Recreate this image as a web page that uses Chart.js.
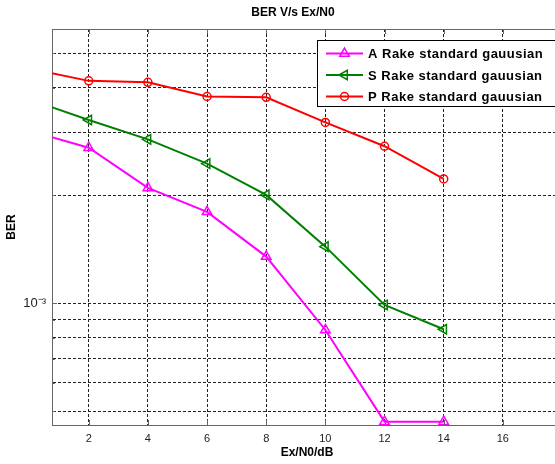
<!DOCTYPE html>
<html><head><meta charset="utf-8">
<script src="https://cdn.jsdelivr.net/npm/chart.js@4/dist/chart.umd.min.js"></script>
<style>html,body{margin:0;padding:0;background:#fff;overflow:hidden}
#wrap{position:relative;width:585px;height:464px}</style>
</head><body><div id="wrap"><canvas id="c" width="585" height="464"></canvas></div>
<script>
// ---- data ----
const snr = [0, 2, 4, 6, 8, 10, 12, 14];
const berA = [3.03e-3, 2.72e-3, 2.10e-3, 1.80e-3, 1.35e-3, 0.842e-3, 0.467e-3, 0.467e-3];
const berS = [3.71e-3, 3.25e-3, 2.87e-3, 2.455e-3, 2.007e-3, 1.439e-3, 0.989e-3, 0.846e-3];
const berP = [4.52e-3, 4.18e-3, 4.14e-3, 3.78e-3, 3.76e-3, 3.20e-3, 2.745e-3, 2.225e-3];
const seriesLabels = ['A Rake standard gauusian', 'S Rake standard gauusian', 'P Rake standard gauusian'];
const xTicks = [2, 4, 6, 8, 10, 12, 14, 16];
const yTicks = [5e-4, 6e-4, 7e-4, 8e-4, 9e-4, 1e-3, 2e-3, 3e-3, 4e-3, 5e-3];
const yTickLabels = { '0.001': '10\u207B\u00B3' };
const titleText = 'BER V/s Ex/N0';
const xTitle = 'Ex/N0/dB';
const yTitle = 'BER';

const FONT = "'Liberation Sans', Arial, Helvetica, sans-serif";
Chart.defaults.font.family = FONT;
Chart.defaults.color = '#111';

const AXIS_COL = '#666';

function pts(ys) { return snr.map((x, i) => ({ x: x, y: ys[i] })); }

function drawMarker(ctx, style, x, y, r, rot, color) {
  ctx.save();
  ctx.strokeStyle = color; ctx.lineWidth = 1.5; ctx.setLineDash([]);
  ctx.beginPath();
  if (style === 'circle') {
    ctx.arc(x, y, r, 0, Math.PI * 2);
  } else {
    let a = rot * Math.PI / 180;
    for (let k = 0; k < 3; k++) {
      const px = x + Math.sin(a) * r, py = y - Math.cos(a) * r;
      if (k === 0) ctx.moveTo(px, py); else ctx.lineTo(px, py);
      a += 2 * Math.PI / 3;
    }
    ctx.closePath();
  }
  ctx.stroke();
  ctx.restore();
}

const boxPlugin = {
  id: 'boxPlugin',
  afterDatasetsDraw(chart) {
    const { ctx, chartArea: a, scales } = chart;
    ctx.save();
    ctx.strokeStyle = AXIS_COL; ctx.lineWidth = 1; ctx.setLineDash([]);
    ctx.beginPath();
    ctx.moveTo(a.left, a.top + 0.5); ctx.lineTo(a.right, a.top + 0.5);
    ctx.moveTo(a.right - 0.5, a.top); ctx.lineTo(a.right - 0.5, a.bottom);
    // inner tick marks
    xTicks.forEach(v => {
      const px = Math.round(scales.x.getPixelForValue(v)) + 0.5;
      ctx.moveTo(px, a.bottom); ctx.lineTo(px, a.bottom - 5);
      ctx.moveTo(px, a.top); ctx.lineTo(px, a.top + 5);
    });
    yTicks.forEach(v => {
      const py = Math.round(scales.y.getPixelForValue(v)) + 0.5;
      const len = (v === 1e-3) ? 5 : 3;
      ctx.moveTo(a.left, py); ctx.lineTo(a.left + len, py);
    });
    ctx.stroke();
    ctx.restore();
  },
  afterDraw(chart) {
    const { ctx, chartArea: a } = chart;
    // title
    ctx.save();
    ctx.fillStyle = '#000';
    ctx.font = 'bold 12px ' + FONT;
    ctx.textAlign = 'center'; ctx.textBaseline = 'middle';
    ctx.fillText(titleText, a.left + 241, 13);
    ctx.restore();
    // legend
    const bx = a.left + 265, by = a.top + 11, bw = 240, bh = 66;
    ctx.save();
    ctx.fillStyle = '#fff';
    ctx.fillRect(bx, by, bw, bh);
    ctx.strokeStyle = '#000'; ctx.lineWidth = 1; ctx.setLineDash([]);
    ctx.strokeRect(bx + 0.5, by + 0.5, bw, bh);
    chart.data.datasets.forEach((ds, i) => {
      const y = by + 13.5 + i * 21.5;
      ctx.strokeStyle = ds.borderColor; ctx.lineWidth = 2;
      ctx.beginPath(); ctx.moveTo(bx + 9, y); ctx.lineTo(bx + 46, y); ctx.stroke();
      drawMarker(ctx, ds.pointStyle, bx + 27.5, y, ds.pointStyle === 'circle' ? 4 : 5.5, ds.pointRotation || 0, ds.borderColor);
      ctx.fillStyle = '#000';
      ctx.font = 'bold 13px ' + FONT;
      if ('letterSpacing' in ctx) ctx.letterSpacing = '0.5px';
      ctx.textBaseline = 'middle'; ctx.textAlign = 'left';
      ctx.fillText(ds.label, bx + 51, y + 1);
    });
    ctx.restore();
  }
};

function mkDs(label, ys, color, style, rot, r) {
  return {
    label: label, data: pts(ys), borderColor: color, backgroundColor: 'rgba(0,0,0,0)',
    borderWidth: 2, pointStyle: style, pointRotation: rot,
    pointRadius: (c) => c.dataIndex === 0 ? 0 : r,
    pointBorderWidth: 1.5, pointBackgroundColor: 'rgba(0,0,0,0)', pointBorderColor: color,
    tension: 0, fill: false
  };
}

new Chart(document.getElementById('c'), {
  type: 'line',
  data: {
    datasets: [
      mkDs(seriesLabels[0], berA, '#ff00ff', 'triangle', 0, 5.5),
      mkDs(seriesLabels[1], berS, '#008000', 'triangle', -90, 5.5),
      mkDs(seriesLabels[2], berP, '#ff0000', 'circle', 0, 4)
    ]
  },
  options: {
    responsive: false, animation: false, devicePixelRatio: 1,
    layout: { padding: { left: 0, right: 23, top: 29, bottom: 0 } },
    plugins: {
      legend: { display: false }, tooltip: { enabled: false },
      title: { display: false }
    },
    scales: {
      x: {
        type: 'linear', min: 0.758, max: 18,
        afterBuildTicks: (s) => { s.ticks = xTicks.map(v => ({ value: v })); },
        afterFit: (s) => { s.height = 39; },
        ticks: { padding: 7, color: '#222', font: { size: 11 }, maxRotation: 0, autoSkip: false,
          callback: (v) => String(v) },
        grid: { drawTicks: false, color: '#222', lineWidth: 1 },
        border: { display: true, color: AXIS_COL, width: 1, dash: [3, 2] },
        title: { display: true, text: xTitle, color: '#000', font: { size: 12, weight: 'bold', lineHeight: 1.2 }, padding: { top: 4, bottom: 4 } }
      },
      y: {
        type: 'logarithmic', min: 4.57e-4, max: 5.835e-3,
        afterBuildTicks: (s) => { s.ticks = yTicks.map(v => ({ value: v })); },
        afterFit: (s) => { s.width = 52; },
        ticks: { padding: 6, color: '#222', font: { size: 13 }, autoSkip: false,
          callback: (v) => yTickLabels[String(v)] || '' },
        grid: { drawTicks: false, color: '#222', lineWidth: 1 },
        border: { display: true, color: AXIS_COL, width: 1, dash: [3, 2] },
        title: { display: true, text: yTitle, color: '#000', font: { size: 12, weight: 'bold', lineHeight: 1.2 }, padding: { top: 4, bottom: 4 } }
      }
    }
  },
  plugins: [boxPlugin]
});
</script></body></html>
